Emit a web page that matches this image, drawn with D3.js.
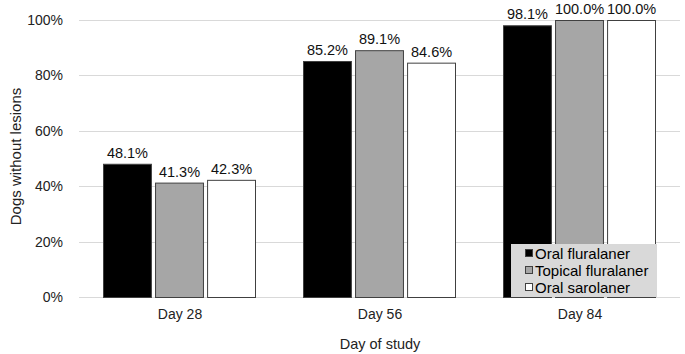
<!DOCTYPE html>
<html>
<head>
<meta charset="utf-8">
<script src="https://cdn.jsdelivr.net/npm/d3@7"></script>
<style>
body { margin: 0; background: #fff; }
text { font-family: "Liberation Sans", Arial, sans-serif; }
</style>
</head>
<body>
<script>
const days = ['Day 28', 'Day 56', 'Day 84'];
const seriesNames = ['Oral fluralaner', 'Topical fluralaner', 'Oral sarolaner'];
const oralFluralaner = [48.1, 85.2, 98.1];
const topicalFluralaner = [41.3, 89.1, 100.0];
const oralSarolaner = [42.3, 84.6, 100.0];
const yTicks = [0, 20, 40, 60, 80, 100];

const fills = ['#000000', '#a6a6a6', '#ffffff'];

function plot()
{
    const W = 685, H = 354;
    const m = { left: 80, right: 5, top: 20, bottom: 57 };
    const fs = 14.5;
    const svg = d3.select('body').append('svg')
        .attr('width', W).attr('height', H);

    const x = d3.scaleBand().domain(days)
        .range([m.left, W - m.right]).paddingInner(0).paddingOuter(0);
    const xs = d3.scaleBand().domain(seriesNames)
        .range([23, x.bandwidth() - 24]).paddingInner(0.06);
    const y = d3.scaleLinear().domain([0, 100]).range([H - m.bottom, m.top]);

    // gridlines
    svg.append('g').selectAll('line').data(yTicks).join('line')
        .attr('x1', m.left - 1).attr('x2', W - m.right)
        .attr('y1', d => Math.round(y(d)) + 0.5).attr('y2', d => Math.round(y(d)) + 0.5)
        .attr('stroke', '#d9d9d9').attr('stroke-width', 1);

    const yAxis = svg.append('g')
        .attr('transform', `translate(${m.left - 14},0)`)
        .call(d3.axisLeft(y).tickValues(yTicks).tickFormat(d => d + '%').tickSize(0));
    yAxis.select('.domain').remove();
    yAxis.selectAll('text').attr('font-size', 14).attr('fill', '#222')
        .attr('font-family', '"Liberation Sans", Arial, sans-serif');

    const series = [oralFluralaner, topicalFluralaner, oralSarolaner];
    series.forEach((vals, si) => {
        const g = svg.append('g');
        g.selectAll('rect').data(vals).join('rect')
            .attr('x', (d, i) => x(days[i]) + xs(seriesNames[si]) + 0.5)
            .attr('y', d => y(d) + 0.5)
            .attr('width', xs.bandwidth() - 1)
            .attr('height', d => y(0) - y(d))
            .attr('fill', fills[si])
            .attr('stroke', '#404040').attr('stroke-width', 1);
        g.selectAll('text').data(vals).join('text')
            .attr('x', (d, i) => x(days[i]) + xs(seriesNames[si]) + xs.bandwidth() / 2)
            .attr('y', d => y(d) - 6)
            .attr('text-anchor', 'middle')
            .attr('font-size', fs).attr('fill', '#111')
            .text(d => d.toFixed(1) + '%');
    });

    const xAxis = svg.append('g')
        .attr('transform', `translate(0,${H - m.bottom})`)
        .call(d3.axisBottom(x).tickSize(0).tickPadding(12));
    xAxis.select('.domain').remove();
    xAxis.selectAll('text').attr('font-size', 14).attr('fill', '#222')
        .attr('font-family', '"Liberation Sans", Arial, sans-serif');

    svg.append('text')
        .attr('x', (m.left + W - m.right) / 2).attr('y', 349)
        .attr('text-anchor', 'middle').attr('font-size', fs).attr('fill', '#222')
        .text('Day of study');

    svg.append('text')
        .attr('transform', `translate(21,${(m.top + H - m.bottom) / 2 - 2}) rotate(-90)`)
        .attr('text-anchor', 'middle').attr('font-size', 15).attr('fill', '#222')
        .text('Dogs without lesions');

    // legend
    const lg = svg.append('g').attr('transform', 'translate(511,244)');
    lg.append('rect').attr('width', 146).attr('height', 53).attr('fill', '#d9d9d9');
    seriesNames.forEach((name, i) => {
        const cy = 9 + i * 17;
        lg.append('rect').attr('x', 14.5).attr('y', cy - 3.5)
            .attr('width', 7).attr('height', 7)
            .attr('fill', fills[i]).attr('stroke', '#404040').attr('stroke-width', 1);
        lg.append('text').attr('x', 24).attr('y', cy + 5.5)
            .attr('font-size', 15).attr('fill', '#000').text(name);
    });
}

plot();
</script>
</body>
</html>
